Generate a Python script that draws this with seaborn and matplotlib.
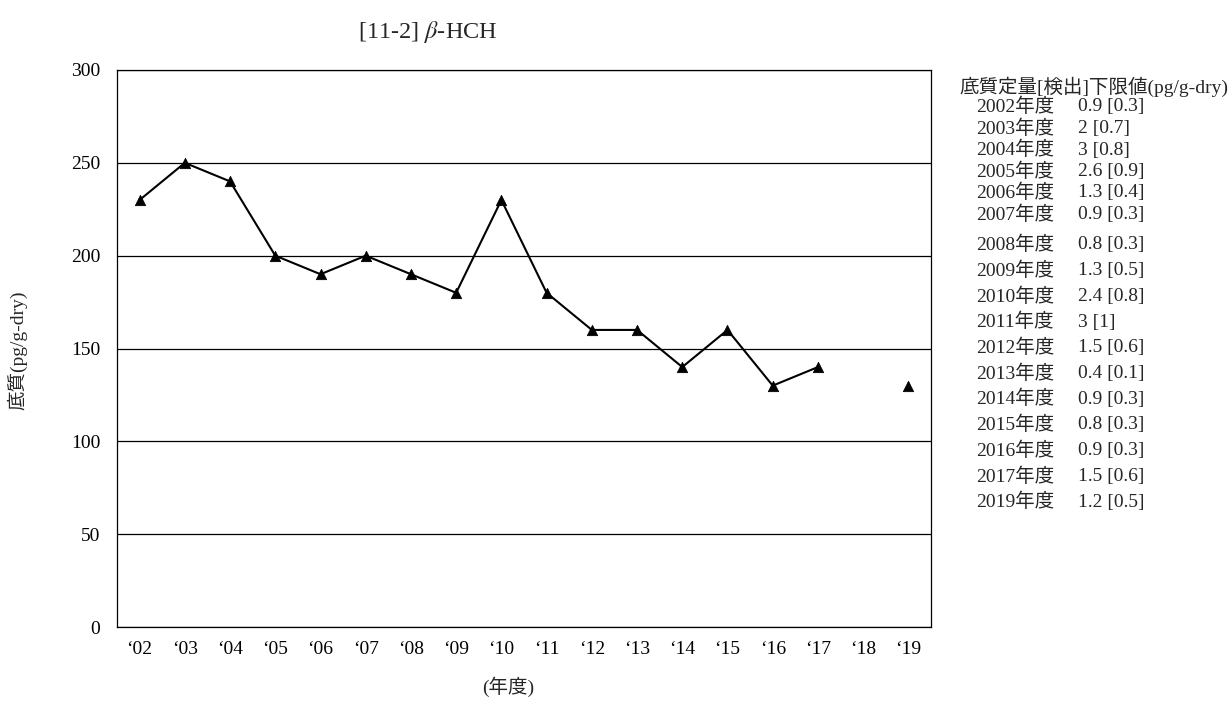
import pandas as pd
import seaborn as sns
import matplotlib.pyplot as plt
import numpy as np

# data
years = list(range(2002, 2020))
tick_labels = ["\u2018" + str(y)[2:] for y in years]
values = [230, 250, 240, 200, 190, 200, 190, 180, 230, 180,
          160, 160, 140, 160, 130, 140, np.nan, 130]

limit_years = [2002, 2003, 2004, 2005, 2006, 2007, 2008, 2009, 2010,
               2011, 2012, 2013, 2014, 2015, 2016, 2017, 2019]
limit_texts = ["0.9 [0.3]", "2 [0.7]", "3 [0.8]", "2.6 [0.9]", "1.3 [0.4]",
               "0.9 [0.3]", "0.8 [0.3]", "1.3 [0.5]", "2.4 [0.8]", "3 [1]",
               "1.5 [0.6]", "0.4 [0.1]", "0.9 [0.3]", "0.8 [0.3]", "0.9 [0.3]",
               "1.5 [0.6]", "1.2 [0.5]"]

sns.set_theme(style="white")
plt.rcParams['font.family'] = ['Liberation Serif', 'Noto Sans CJK JP']
plt.rcParams['mathtext.fontset'] = 'stix'

FS = 14

df = pd.DataFrame({'pos': np.arange(len(years)), 'val': values})
df['seg'] = df['val'].isna().cumsum()
good = df.dropna()

fig = plt.figure(figsize=(12.3, 7.01), dpi=100)
ax = fig.add_axes([117 / 1230, 1 - 627 / 701, 814 / 1230, 557 / 701])

sns.lineplot(data=good, x='pos', y='val', units='seg', estimator=None,
             color='black', linewidth=1.5, ax=ax, legend=False)
sns.scatterplot(data=good, x='pos', y='val', marker='^', color='black',
                s=55, edgecolor='black', ax=ax, legend=False, zorder=3)

ax.set_xlim(-0.5, len(years) - 0.5)
ax.set_ylim(0, 300)
ax.set_yticks(range(0, 301, 50))
ax.set_xticks(range(len(years)))
ax.set_xticklabels(tick_labels)
ax.tick_params(axis='both', labelsize=FS, length=0, colors='black')
ax.tick_params(axis='x', pad=10)
ax.tick_params(axis='y', pad=12)
ax.yaxis.grid(True, color='black', linewidth=0.9)
ax.set_axisbelow(True)
for s in ax.spines.values():
    s.set_color('black')
    s.set_linewidth(0.9)
ax.set_xlabel('')
ax.set_ylabel('')

fig.text(17 / 1230, 1 - 350 / 701, '底質(pg/g-dry)', rotation=90,
         ha='center', va='center', fontsize=FS)
fig.text(508 / 1230, 1 - 687 / 701, '(年度)', ha='center', va='center', fontsize=FS)
fig.text(428 / 1230, 1 - 32 / 701, r'[11-2] $\beta$-HCH', ha='center',
         va='center', fontsize=17.5)

# detection limit notes
fig.text(1228 / 1230, 1 - 87 / 701, '底質定量[検出]下限値(pg/g-dry)',
         ha='right', va='center', fontsize=FS)
for i, (yr, t) in enumerate(zip(limit_years, limit_texts)):
    if i < 6:
        ypix = 107 + 21.5 * i
    else:
        ypix = 245 + 25.7 * (i - 6)
    fig.text(976 / 1230, 1 - ypix / 701, f'{yr}年度', ha='left', va='center', fontsize=FS)
    fig.text(1078 / 1230, 1 - ypix / 701, t, ha='left', va='center', fontsize=FS)

fig.savefig('out.png', dpi=100)
